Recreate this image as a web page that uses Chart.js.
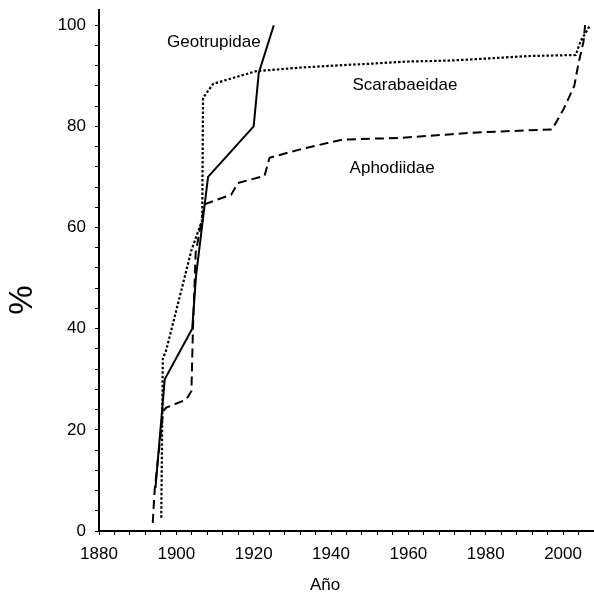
<!DOCTYPE html>
<html>
<head>
<meta charset="utf-8">
<script src="https://cdn.jsdelivr.net/npm/chart.js@4"></script>
<style>
  body { margin: 0; background: #fff; }
  canvas { display: block; }
</style>
</head>
<body>
<canvas id="chart" width="594" height="594"></canvas>
<script>
// Geotrupidae (solid)
const geoYears = [1894.6, 1897, 1904.1, 1905.1, 1908.2, 1920, 1921.3, 1925.2];
const geoValues = [8.5, 30, 40, 50.5, 70, 80, 90.5, 100];

// Scarabaeidae (dotted)
const scaYears = [1896.1, 1896.5, 1897.4, 1903.9, 1906.7, 1906.9, 1909.5, 1920.6, 1931.8, 1943, 1950.7, 1959.3, 1970.5, 1975.6, 1991.1, 2003.3, 2004.5, 2007];
const scaValues = [2.6, 34, 35.8, 55.5, 61.5, 85.6, 88.4, 90.9, 91.6, 92.1, 92.4, 92.8, 93, 93.2, 93.9, 94.1, 96.8, 100];

// Aphodiidae (dashed)
const aphYears = [1893.9, 1894.4, 1896.6, 1897.4, 1902.6, 1903.9, 1904.3, 1905, 1906.5, 1907.3, 1914.2, 1915.9, 1922.8, 1924.1, 1931.8, 1943, 1957.6, 1970.5, 1975.6, 1984.2, 1997.2, 2000.2, 2002.9, 2004, 2005.3, 2005.7];
const aphValues = [1.6, 8.2, 23.7, 24.4, 26, 27.7, 40, 55, 61.3, 64.6, 66.5, 68.8, 70.2, 73.8, 75.4, 77.4, 77.7, 78.4, 78.7, 79, 79.4, 83.5, 88, 92.5, 96.8, 100];

const xTickLabels = [1880, 1900, 1920, 1940, 1960, 1980, 2000];
const yTickLabels = [0, 20, 40, 60, 80, 100];

// in-plot family names, anchored at (year, %)
const seriesNames = ['Geotrupidae', 'Scarabaeidae', 'Aphodiidae'];
const nameYears = [1909.7, 1959.1, 1955.8];
const nameValues = [96.7, 88.2, 71.8];

const FONT = '"Liberation Sans", Arial, sans-serif';

function toPoints(xs, ys) {
    return xs.map((x, i) => ({ x: x, y: ys[i] }));
}

const textPlugin = {
    id: 'texts',
    afterDraw(chart) {
        const ctx = chart.ctx;
        const xs = chart.scales.x, ys = chart.scales.y;
        ctx.save();
        ctx.fillStyle = '#000';
        ctx.textAlign = 'center';
        ctx.textBaseline = 'middle';
        ctx.font = '17px ' + FONT;
        seriesNames.forEach((name, i) => {
            ctx.fillText(name, xs.getPixelForValue(nameYears[i]), ys.getPixelForValue(nameValues[i]));
        });
        // axis titles
        ctx.fillText('Año', 325, 585);
        ctx.translate(23, 300);
        ctx.rotate(-Math.PI / 2);
        ctx.font = '33px ' + FONT;
        ctx.fillText('%', 0, 0);
        ctx.restore();
    }
};

const lineStyle = {
    borderColor: '#000',
    pointRadius: 0,
    showLine: true,
    tension: 0,
    fill: false,
    clip: false
};

new Chart(document.getElementById('chart'), {
    type: 'scatter',
    data: {
        datasets: [
            Object.assign({ label: 'Geotrupidae', data: toPoints(geoYears, geoValues), borderWidth: 2 }, lineStyle),
            Object.assign({ label: 'Scarabaeidae', data: toPoints(scaYears, scaValues), borderWidth: 2.2, borderDash: [2.5, 2] }, lineStyle),
            Object.assign({ label: 'Aphodiidae', data: toPoints(aphYears, aphValues), borderWidth: 2, borderDash: [9, 5] }, lineStyle)
        ]
    },
    options: {
        responsive: false,
        animation: false,
        events: [],
        layout: { padding: { top: 10, right: 0, left: 0, bottom: 0 } },
        plugins: { legend: { display: false }, tooltip: { enabled: false } },
        scales: {
            x: {
                type: 'linear',
                min: 1880,
                max: 2008,
                afterFit: (scale) => {
                    scale.height = 63;
                    scale.paddingLeft = 0;
                    scale.paddingRight = 0;
                },
                border: { display: true, color: '#000', width: 2 },
                grid: { drawOnChartArea: false, drawTicks: true, tickLength: 4, color: '#000', lineWidth: 1 },
                ticks: {
                    stepSize: 4,
                    includeBounds: false,
                    autoSkip: false,
                    maxRotation: 0,
                    padding: 9,
                    color: '#000',
                    font: { family: FONT, size: 17 },
                    callback: (v) => xTickLabels.includes(v) ? String(v) : ''
                }
            },
            y: {
                type: 'linear',
                min: 0,
                max: 103,
                afterFit: (scale) => {
                    scale.width = 99;
                    scale.paddingTop = 0;
                    scale.paddingBottom = 0;
                },
                border: { display: true, color: '#000', width: 2 },
                grid: { drawOnChartArea: false, drawTicks: true, tickLength: 4, color: '#000', lineWidth: 1 },
                ticks: {
                    stepSize: 4,
                    includeBounds: false,
                    autoSkip: false,
                    padding: 9,
                    color: '#000',
                    font: { family: FONT, size: 17 },
                    callback: (v) => yTickLabels.includes(v) ? String(v) : ''
                }
            }
        }
    },
    plugins: [textPlugin]
});
</script>
</body>
</html>
